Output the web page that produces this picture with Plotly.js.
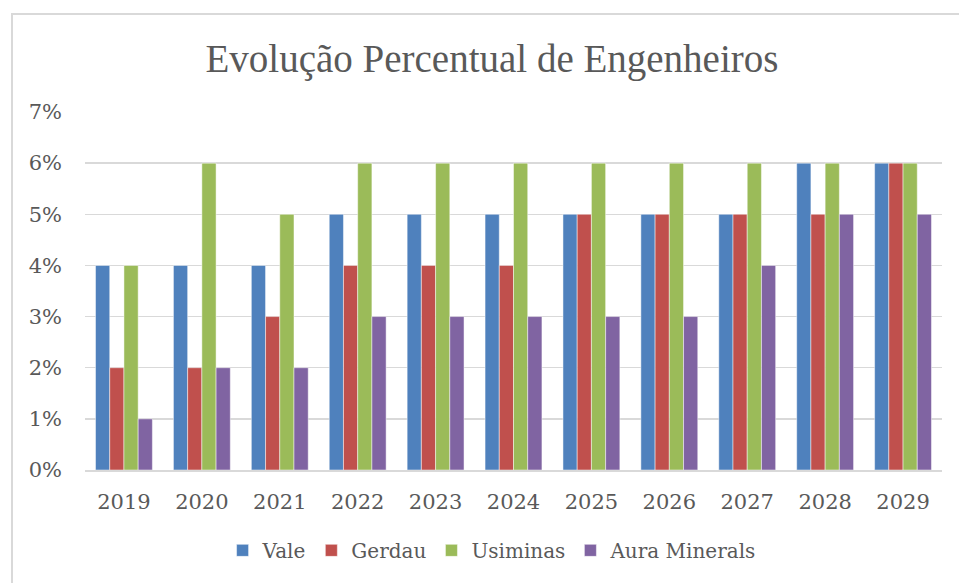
<!DOCTYPE html>
<html><head><meta charset="utf-8">
<script src="https://cdn.plot.ly/plotly-3.0.1.min.js"></script>
<style>
body{margin:0;padding:0;background:#fff;}
#wrap{position:relative;width:959px;height:583px;overflow:hidden;}
#chart{position:absolute;left:0;top:0;width:959px;height:583px;}
#frame{position:absolute;left:11px;top:13px;width:1000px;height:700px;border:2px solid #d9d9d9;pointer-events:none;}
</style>
</head><body>
<div id="wrap"><div id="chart"></div><div id="frame"></div></div>
<script>
const years = ['2019','2020','2021','2022','2023','2024','2025','2026','2027','2028','2029'];
const vale = [0.04,0.04,0.04,0.05,0.05,0.05,0.05,0.05,0.05,0.06,0.06];
const gerdau = [0.02,0.02,0.03,0.04,0.04,0.04,0.05,0.05,0.05,0.05,0.06];
const usiminas = [0.04,0.06,0.05,0.06,0.06,0.06,0.06,0.06,0.06,0.06,0.06];
const aura = [0.01,0.02,0.02,0.03,0.03,0.03,0.03,0.03,0.04,0.05,0.05];
const seriesNames = ['Vale','Gerdau','Usiminas','Aura Minerals'];
const colors = ['#4f81bd','#c0504d','#9bbb59','#8064a2'];
const allSeries = [vale, gerdau, usiminas, aura];

const traces = allSeries.map((s,i)=>({
  type:'bar', name:seriesNames[i], x:years, y:s,
  marker:{color:colors[i], line:{color:'rgba(255,255,255,0.6)', width:0.8}},
  hoverinfo:'x+y'
}));

const font = 'DejaVu Serif, Liberation Serif, serif';
Plotly.newPlot('chart', traces, {
  width:959, height:583,
  margin:{l:85, r:17, t:112, b:113, autoexpand:false},
  paper_bgcolor:'#fff', plot_bgcolor:'#fff',
  barmode:'group', bargap:0.27, bargroupgap:0,
  title:{text:'Evolução Percentual de Engenheiros', x:0.513, xanchor:'center', y:0.9, yanchor:'middle', yref:'container',
         font:{family:'Liberation Serif, serif', size:39, color:'#595959'}},
  xaxis:{type:'category', showgrid:false, showline:true, linecolor:'#d9d9d9', linewidth:1.5,
         ticks:'', tickfont:{family:font, size:21, color:'#595959'}, ticklabelstandoff:12},
  yaxis:{range:[0,0.07], dtick:0.01, tickformat:'.0%', showgrid:true, gridcolor:'#d9d9d9', gridwidth:1.5,
         zeroline:false, showline:false, ticks:'', tickfont:{family:font, size:21, color:'#595959'}, ticklabelstandoff:22},
  legend:{orientation:'h', x:0.475, xanchor:'center', y:-0.17, yanchor:'top', font:{family:font, size:20, color:'#595959'},
          itemwidth:30, traceorder:'normal'},
  showlegend:true
}, {displayModeBar:false, staticPlot:true});
</script>
</body></html>
